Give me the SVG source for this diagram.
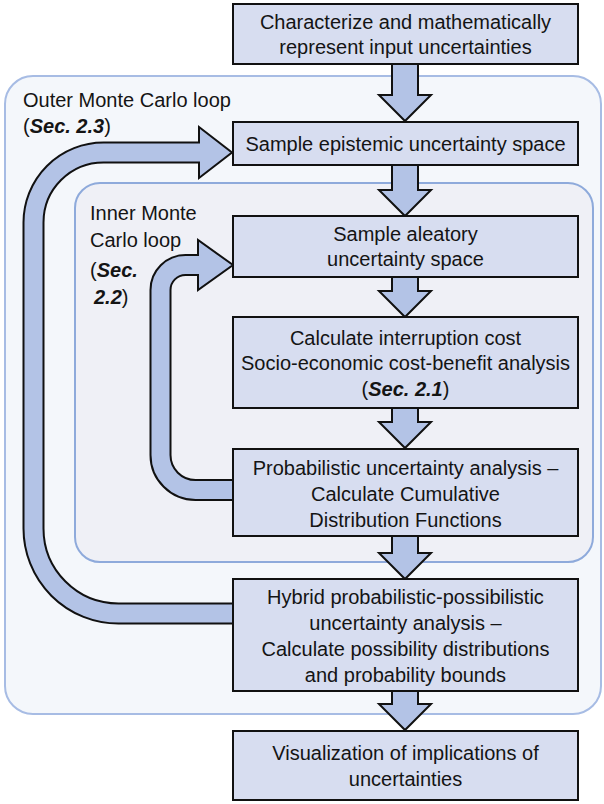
<svg xmlns="http://www.w3.org/2000/svg" width="604" height="804" viewBox="0 0 604 804">
<style>
text{font-family:"Liberation Sans",Arial,sans-serif;font-size:20px;fill:#141414}
.c{text-anchor:middle}
.b{font-weight:bold;font-style:italic}
.box{fill:#d7ddf0;stroke:#111;stroke-width:2}
.arr{fill:#b3c3e6;stroke:#111;stroke-width:2;stroke-linejoin:miter}
</style>
<rect width="604" height="804" fill="#fff"/>
<g id="outer-loop">
<rect x="5" y="76" width="596" height="638" rx="28" fill="#f4f7fb" stroke="#a7bce4" stroke-width="2"/>
<text x="23" y="107">Outer Monte Carlo loop</text>
<text x="23" y="133">(<tspan class="b">Sec. 2.3</tspan>)</text>
</g>
<g id="inner-loop">
<rect x="75" y="183" width="518" height="379" rx="25" fill="#eff0f6" stroke="#8eaadb" stroke-width="2"/>
<text x="90" y="220">Inner Monte</text>
<text x="90" y="247">Carlo loop</text>
<text x="90" y="277">(<tspan class="b">Sec.</tspan></text>
<text x="94" y="304"><tspan class="b">2.2</tspan>)</text>
</g>
<g id="connectors">
<path class="arr" d="M233 603.5 L118.5 603.5 A75 75 0 0 1 43.5 528.5 L43.5 222.5 A60 60 0 0 1 103.5 162.5 L199 162.5 L199 178 L232 152.5 L199 127 L199 142.5 L103.5 142.5 A80 80 0 0 0 23.5 222.5 L23.5 528.5 A95 95 0 0 0 118.5 623.5 L233 623.5 Z"/>
<path class="arr" d="M233 480 L195.5 480 A25 25 0 0 1 170.5 455 L170.5 290 A15 15 0 0 1 185.5 275 L198 275 L198 290 L233 265 L198 240 L198 255 L185.5 255 A35 35 0 0 0 150.5 290 L150.5 455 A45 45 0 0 0 195.5 500 L233 500 Z"/>
<path class="arr" d="M392 64 L418 64 L418 95 L431 95 L405 121 L379 95 L392 95 Z"/>
<path class="arr" d="M392 165 L418 165 L418 190 L431 190 L405 216 L379 190 L392 190 Z"/>
<path class="arr" d="M392 277 L418 277 L418 291 L431 291 L405 317 L379 291 L392 291 Z"/>
<path class="arr" d="M392 408 L418 408 L418 422 L431 422 L405 448 L379 422 L392 422 Z"/>
<path class="arr" d="M392 536 L418 536 L418 553 L431 553 L405 579 L379 553 L392 553 Z"/>
<path class="arr" d="M392 691 L418 691 L418 704 L431 704 L405 730 L379 704 L392 704 Z"/>
</g>
<g id="n1">
<rect class="box" x="233" y="4" width="345" height="60"/>
<text class="c" x="405.5" y="28.5">Characterize and mathematically</text>
<text class="c" x="405.5" y="54">represent input uncertainties</text>
</g>
<g id="n2">
<rect class="box" x="233" y="122" width="345" height="43"/>
<text class="c" x="405.5" y="150.5">Sample epistemic uncertainty space</text>
</g>
<g id="n3">
<rect class="box" x="233" y="216" width="345" height="61"/>
<text class="c" x="405.5" y="241">Sample aleatory</text>
<text class="c" x="405.5" y="266">uncertainty space</text>
</g>
<g id="n4">
<rect class="box" x="233" y="317" width="345" height="91"/>
<text class="c" x="405.5" y="344.5">Calculate interruption cost</text>
<text class="c" x="405.5" y="370">Socio-economic cost-benefit analysis</text>
<text class="c" x="405.5" y="396">(<tspan class="b">Sec. 2.1</tspan>)</text>
</g>
<g id="n5">
<rect class="box" x="233" y="449" width="345" height="87"/>
<text class="c" x="405.5" y="474.5">Probabilistic uncertainty analysis –</text>
<text class="c" x="405.5" y="500.5">Calculate Cumulative</text>
<text class="c" x="405.5" y="526.5">Distribution Functions</text>
</g>
<g id="n6">
<rect class="box" x="233" y="579" width="345" height="112"/>
<text class="c" x="405.5" y="603.5">Hybrid probabilistic-possibilistic</text>
<text class="c" x="405.5" y="629.5">uncertainty analysis –</text>
<text class="c" x="405.5" y="655.5">Calculate possibility distributions</text>
<text class="c" x="405.5" y="681.5">and probability bounds</text>
</g>
<g id="n7">
<rect class="box" x="233" y="731" width="345" height="69"/>
<text class="c" x="405.5" y="759.5">Visualization of implications of</text>
<text class="c" x="405.5" y="785.5">uncertainties</text>
</g>
</svg>
